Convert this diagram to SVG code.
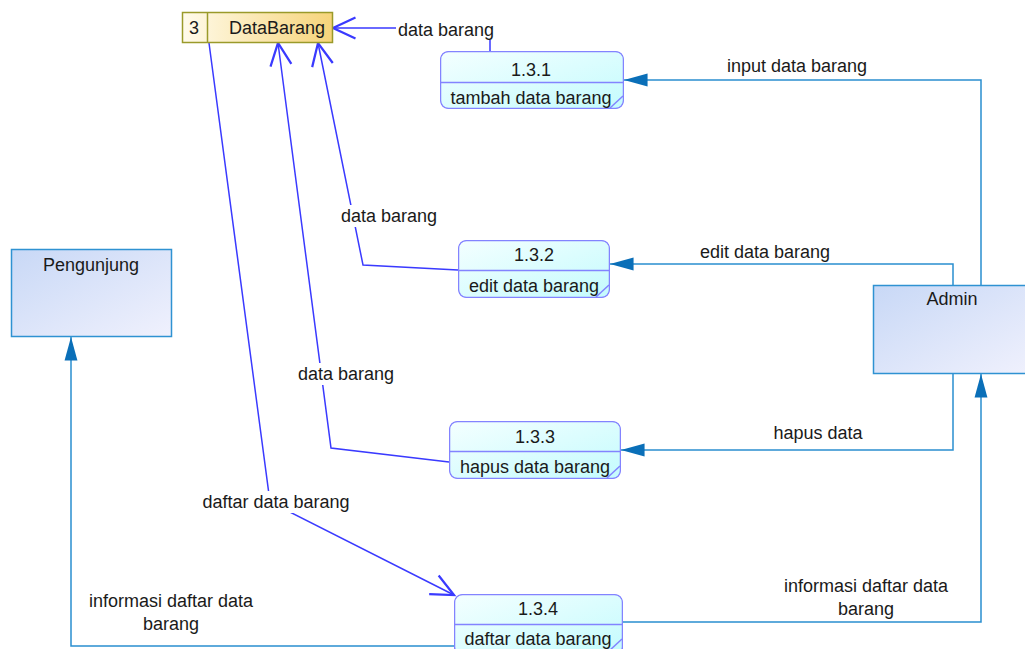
<svg xmlns="http://www.w3.org/2000/svg" width="1025" height="649" viewBox="0 0 1025 649">
<style>
text{font-family:"Liberation Sans",Arial,sans-serif;font-size:18px;fill:#1a1a1a;text-anchor:middle}
.proc{fill:url(#gProc);stroke:#8383ff;stroke-width:1.5}
.pdiv{stroke:#8383ff;stroke-width:1.5}
.ent{fill:url(#gEnt);stroke:#2f92d2;stroke-width:1.5}
.sflow{fill:none;stroke:#3a3aff;stroke-width:1.5}
.eflow{fill:none;stroke:#2a8fd0;stroke-width:1.5}
.bg{fill:#fff}
</style>
<defs>
<linearGradient id="gProc" x1="0" y1="0" x2="1" y2="1"><stop offset="0" stop-color="#f4ffff"/><stop offset="1" stop-color="#c4fbfd"/></linearGradient>
<linearGradient id="gEnt" x1="0" y1="0" x2="1" y2="1"><stop offset="0" stop-color="#c8d8f6"/><stop offset="1" stop-color="#f0f1fd"/></linearGradient>
<linearGradient id="gStore" x1="0" y1="0" x2="1" y2="0"><stop offset="0" stop-color="#fffbeb"/><stop offset="1" stop-color="#f6d47a"/></linearGradient>
<marker id="open" markerUnits="userSpaceOnUse" markerWidth="30" markerHeight="30" viewBox="-16 -10 20 20" refX="0" refY="0" orient="auto"><path d="M-15,-7 L0,0 L-15,7" fill="none" stroke="#3a3aff" stroke-width="1.5"/></marker>
<marker id="fill" markerUnits="userSpaceOnUse" markerWidth="30" markerHeight="30" viewBox="-24 -10 28 20" refX="0" refY="0" orient="auto"><path d="M-22,-6 L0,0 L-22,6 Z" fill="#0a6fb8"/></marker>
<clipPath id="c1"><rect x="440" y="51" width="184" height="58" rx="8"/></clipPath>
<clipPath id="c2"><rect x="458" y="240" width="152" height="58" rx="8"/></clipPath>
<clipPath id="c3"><rect x="449" y="421" width="172" height="58" rx="8"/></clipPath>
<clipPath id="c4"><rect x="454" y="594" width="169" height="70" rx="8"/></clipPath>
</defs>

<g id="connectors">
<polyline class="eflow" points="981,285 981,80 624,80" marker-end="url(#fill)"/>
<polyline class="eflow" points="953,285 953,264 610,264" marker-end="url(#fill)"/>
<polyline class="eflow" points="953,373 953,450 621,450" marker-end="url(#fill)"/>
<polyline class="eflow" points="622,622 981,622 981,374" marker-end="url(#fill)"/>
<polyline class="eflow" points="454,646 71,646 71,337" marker-end="url(#fill)"/>
<polyline class="sflow" points="490,51 490,28 333,28" marker-end="url(#open)"/>
<polyline class="sflow" points="458,270 363,265 318,43" marker-end="url(#open)"/>
<polyline class="sflow" points="449,462 331,448 278,43" marker-end="url(#open)"/>
<polyline class="sflow" points="209,43 270,502 454,595" marker-end="url(#open)"/>
<rect class="bg" x="396" y="19" width="100" height="21"/>
<text x="446" y="36">data barang</text>
<rect class="bg" x="339" y="205" width="100" height="22"/>
<text x="389" y="222">data barang</text>
<rect class="bg" x="296" y="363" width="100" height="22"/>
<text x="346" y="380">data barang</text>
<rect class="bg" x="199" y="491" width="154" height="22"/>
<text x="276" y="508">daftar data barang</text>
<text x="797" y="72">input data barang</text>
<text x="765" y="258">edit data barang</text>
<text x="818" y="439">hapus data</text>
<text x="866" y="592">informasi daftar data</text>
<text x="866" y="615">barang</text>
<text x="171" y="607">informasi daftar data</text>
<text x="171" y="630">barang</text>
</g>

<g id="store-3">
<rect x="182.5" y="12.5" width="150" height="30" fill="url(#gStore)" stroke="#9a9a2a" stroke-width="1.5"/>
<line x1="207.5" y1="12.5" x2="207.5" y2="42.5" stroke="#9a9a2a" stroke-width="1.5"/>
<text x="194" y="34">3</text>
<text x="277" y="34">DataBarang</text>
</g>

<g id="p131" clip-path="url(#c1)">
<rect class="proc" x="440.5" y="51.5" width="183" height="57" rx="8"/>
<line class="pdiv" x1="440.5" y1="82.5" x2="623.5" y2="82.5"/>
<line class="pdiv" x1="610" y1="108" x2="623" y2="96" stroke-width="1"/>
<text x="531" y="76">1.3.1</text>
<text x="531" y="104">tambah data barang</text>
</g>

<g id="p132" clip-path="url(#c2)">
<rect class="proc" x="458.5" y="240.5" width="151" height="57" rx="8"/>
<line class="pdiv" x1="458.5" y1="270.5" x2="609.5" y2="270.5"/>
<line class="pdiv" x1="596" y1="297" x2="609" y2="285" stroke-width="1"/>
<text x="534" y="261">1.3.2</text>
<text x="534" y="292">edit data barang</text>
</g>

<g id="p133" clip-path="url(#c3)">
<rect class="proc" x="449.5" y="421.5" width="171" height="57" rx="8"/>
<line class="pdiv" x1="449.5" y1="451.5" x2="620.5" y2="451.5"/>
<line class="pdiv" x1="607" y1="478" x2="620" y2="466" stroke-width="1"/>
<text x="535" y="443">1.3.3</text>
<text x="535" y="473">hapus data barang</text>
</g>

<g id="p134" clip-path="url(#c4)">
<rect class="proc" x="454.5" y="594.5" width="168" height="60" rx="8"/>
<line class="pdiv" x1="454.5" y1="624.5" x2="622.5" y2="624.5"/>
<line class="pdiv" x1="609" y1="651" x2="622" y2="639" stroke-width="1"/>
<text x="538" y="615">1.3.4</text>
<text x="538" y="645">daftar data barang</text>
</g>

<g id="pengunjung">
<rect class="ent" x="11.5" y="249.5" width="160" height="87"/>
<text x="91" y="271">Pengunjung</text>
</g>

<g id="admin">
<rect class="ent" x="873.5" y="285.5" width="160" height="88"/>
<text x="952" y="305">Admin</text>
</g>
</svg>
